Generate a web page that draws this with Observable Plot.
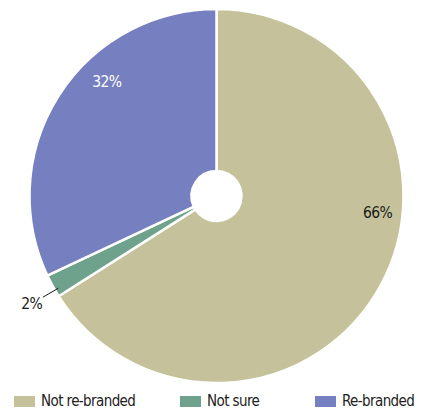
<!DOCTYPE html>
<html><head><meta charset="utf-8">
<script src="https://cdn.jsdelivr.net/npm/d3@7"></script>
<script src="https://cdn.jsdelivr.net/npm/@observablehq/plot@0.6"></script>
<style>
body{margin:0;background:#fff;}
#chart{position:relative;width:427px;height:410px;overflow:hidden;font-family:"DejaVu Sans Condensed",sans-serif;}
#legend{position:absolute;left:14px;top:392px;width:420px;}
.lg-swatches{font-family:"DejaVu Sans Condensed",sans-serif !important;font-size:15px !important;letter-spacing:-0.6px;color:#222 !important;white-space:nowrap !important;}
.lg-swatches-wrap{min-height:0 !important;margin:0 !important;flex-wrap:nowrap !important;display:flex !important;}
.lg-swatch{margin-right:0 !important;flex-shrink:0 !important;white-space:nowrap !important;}
.lg-swatch svg{margin-right:6px !important;flex-shrink:0;}
</style></head>
<body><div id="chart"></div>
<script>
const categories = ["Not re-branded", "Not sure", "Re-branded"];
const values = [66, 2, 32];
const labels = ["66%", "2%", "32%"];
const colors = ["#c5c29b", "#6fa28c", "#7680c0"];

const data = categories.map((c, i) => ({category: c, value: values[i], label: labels[i]}));

const W = 427, H = 390;
const cx = 216.5, cy = 196, R = 187, R0 = 25;

const pieMark = (index, scales) => {
  const arcs = d3.pie().sort(null).value(d => d.value)(data);
  const arc = d3.arc().innerRadius(R0).outerRadius(R);
  const g = d3.create("svg:g").attr("transform", `translate(${cx},${cy})`);
  g.selectAll("path").data(arcs).join("path")
    .attr("d", arc)
    .attr("fill", d => scales.color(d.data.category))
    .attr("stroke", "#fff")
    .attr("stroke-width", 2.5)
    .attr("stroke-linejoin", "round");
  const place = {
    "Not re-branded": {f: 0.404, r: 162, fill: "#1a1a1a"},
    "Not sure": {f: 0.3, r: 214, fill: "#1a1a1a", leader: [183, 201]},
    "Re-branded": {f: 0.618, r: 158, fill: "#ffffff"}
  };
  const pt = (a, r) => [r * Math.sin(a), -r * Math.cos(a)];
  for (const d of arcs) {
    const p = place[d.data.category];
    const a = d.startAngle + p.f * (d.endAngle - d.startAngle);
    const [x, y] = pt(a, p.r);
    if (p.leader) {
      const [x1, y1] = pt(a, p.leader[0]);
      const [x2, y2] = pt(a, p.leader[1]);
      g.append("line").attr("x1", x1).attr("y1", y1).attr("x2", x2).attr("y2", y2)
        .attr("stroke", "#1a1a1a").attr("stroke-width", 1);
    }
    g.append("text").attr("x", x).attr("y", y)
      .attr("text-anchor", "middle").attr("dominant-baseline", "central")
      .attr("fill", p.fill).attr("font-size", 15.5).attr("letter-spacing", -0.6)
      .attr("font-family", "'DejaVu Sans Condensed',sans-serif")
      .text(d.data.label);
  }
  return g.node();
};

const chart = Plot.plot({
  width: W, height: H, margin: 0,
  x: {axis: null, domain: [0, W]},
  y: {axis: null, domain: [0, H]},
  color: {domain: categories, range: colors},
  marks: [
    Plot.dot(data, {x: () => -999, y: () => -999, fill: "category", r: 0}),
    pieMark
  ]
});
const root = document.getElementById("chart");
root.appendChild(chart);

const legend = Plot.legend({
  color: {type: "ordinal", domain: categories, range: colors},
  swatchWidth: 21, swatchHeight: 11, className: "lg"
});
const lg = document.createElement("div");
lg.id = "legend";
lg.appendChild(legend);
root.appendChild(lg);
const itemWidths = [166, 135];
lg.querySelectorAll(".lg-swatch").forEach((el, i) => {
  if (i < itemWidths.length) { el.style.width = itemWidths[i] + "px"; el.style.minWidth = itemWidths[i] + "px"; }
});
</script>
</body></html>
